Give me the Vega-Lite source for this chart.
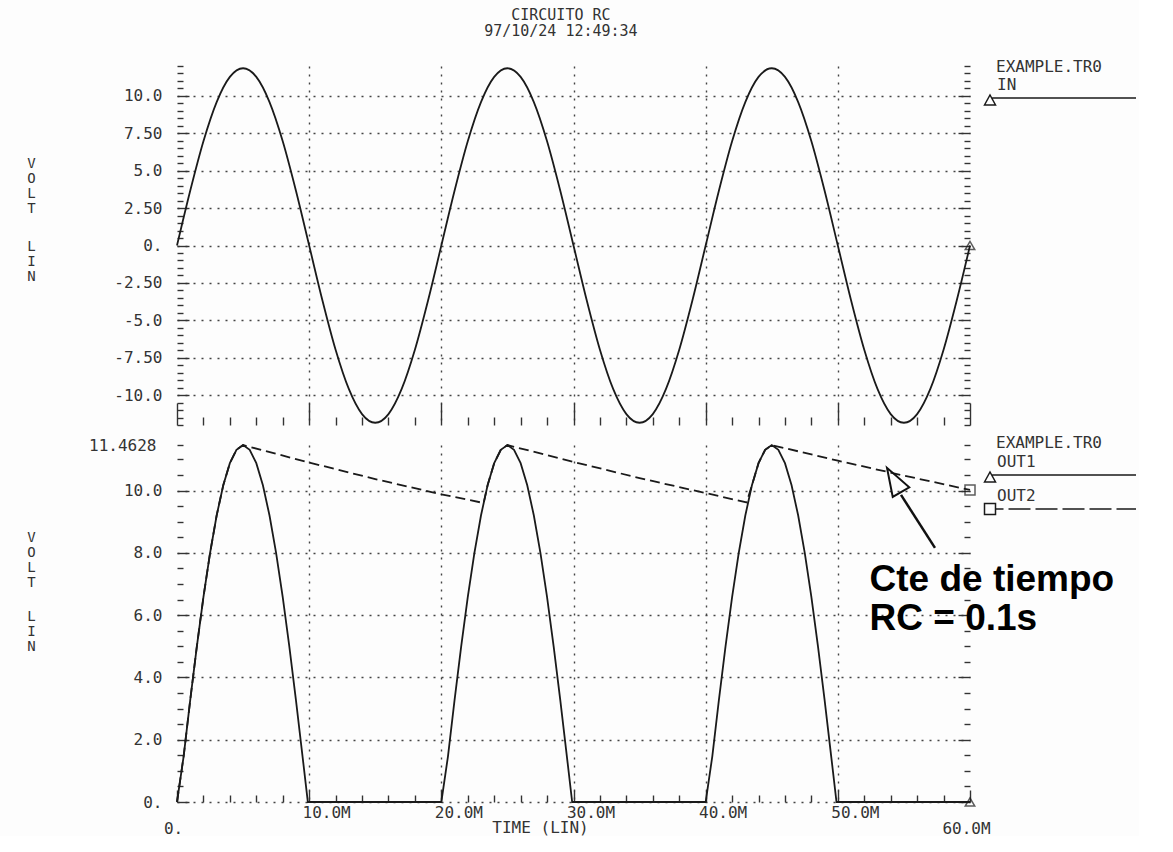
{
  "$schema": "https://vega.github.io/schema/vega-lite/v6.json",
  "background": "#fdfdfd",
  "padding": {"left": 26, "top": 8, "right": 0, "bottom": 0},
  "bounds": "flush",
  "title": {"text": ["CIRCUITO RC", "97/10/24 12:49:34"], "font": "DejaVu Sans Mono", "fontSize": 15, "fontWeight": "normal", "color": "#333", "lineHeight": 16, "anchor": "middle", "offset": 19, "dx": -22},
  "config": {
    "view": {"stroke": null},
    "font": "DejaVu Sans Mono",
    "axis": {"domain": false, "labelFont": "DejaVu Sans Mono", "labelFontSize": 16, "labelColor": "#333", "tickColor": "#333", "tickWidth": 1.4, "gridColor": "#444", "gridDash": [2, 6], "gridWidth": 1.4, "titleFont": "DejaVu Sans Mono", "titleFontWeight": "normal", "titleColor": "#333", "titleFontSize": 14, "labelOverlap": false, "labelBound": false, "labelFlush": false},
    "legend": {"labelFont": "DejaVu Sans Mono", "labelFontSize": 16, "labelColor": "#333", "titleFont": "DejaVu Sans Mono", "titleFontSize": 16, "titleFontWeight": "normal", "titleColor": "#333", "padding": 0, "symbolSize": 100, "symbolStrokeWidth": 1.5, "symbolOpacity": 1, "symbolFillColor": "transparent", "symbolStrokeColor": "#1a1a1a", "labelOffset": -15, "labelBaseline": "bottom"}
  },
  "datasets": {
    "in": [
      {"t": 0, "v": 0, "series": "IN"}, {"t": 1, "v": 3.66, "series": "IN"}, {"t": 2, "v": 6.97, "series": "IN"}, {"t": 3, "v": 9.59, "series": "IN"}, {"t": 4, "v": 11.27, "series": "IN"}, {"t": 5, "v": 11.85, "series": "IN"}, {"t": 6, "v": 11.27, "series": "IN"}, {"t": 7, "v": 9.59, "series": "IN"}, {"t": 8, "v": 6.97, "series": "IN"}, {"t": 9, "v": 3.66, "series": "IN"},
      {"t": 10, "v": 0, "series": "IN"}, {"t": 11, "v": -3.66, "series": "IN"}, {"t": 12, "v": -6.97, "series": "IN"}, {"t": 13, "v": -9.59, "series": "IN"}, {"t": 14, "v": -11.27, "series": "IN"}, {"t": 15, "v": -11.85, "series": "IN"}, {"t": 16, "v": -11.27, "series": "IN"}, {"t": 17, "v": -9.59, "series": "IN"}, {"t": 18, "v": -6.97, "series": "IN"}, {"t": 19, "v": -3.66, "series": "IN"},
      {"t": 20, "v": 0, "series": "IN"}, {"t": 21, "v": 3.66, "series": "IN"}, {"t": 22, "v": 6.97, "series": "IN"}, {"t": 23, "v": 9.59, "series": "IN"}, {"t": 24, "v": 11.27, "series": "IN"}, {"t": 25, "v": 11.85, "series": "IN"}, {"t": 26, "v": 11.27, "series": "IN"}, {"t": 27, "v": 9.59, "series": "IN"}, {"t": 28, "v": 6.97, "series": "IN"}, {"t": 29, "v": 3.66, "series": "IN"},
      {"t": 30, "v": 0, "series": "IN"}, {"t": 31, "v": -3.66, "series": "IN"}, {"t": 32, "v": -6.97, "series": "IN"}, {"t": 33, "v": -9.59, "series": "IN"}, {"t": 34, "v": -11.27, "series": "IN"}, {"t": 35, "v": -11.85, "series": "IN"}, {"t": 36, "v": -11.27, "series": "IN"}, {"t": 37, "v": -9.59, "series": "IN"}, {"t": 38, "v": -6.97, "series": "IN"}, {"t": 39, "v": -3.66, "series": "IN"},
      {"t": 40, "v": 0, "series": "IN"}, {"t": 41, "v": 3.66, "series": "IN"}, {"t": 42, "v": 6.97, "series": "IN"}, {"t": 43, "v": 9.59, "series": "IN"}, {"t": 44, "v": 11.27, "series": "IN"}, {"t": 45, "v": 11.85, "series": "IN"}, {"t": 46, "v": 11.27, "series": "IN"}, {"t": 47, "v": 9.59, "series": "IN"}, {"t": 48, "v": 6.97, "series": "IN"}, {"t": 49, "v": 3.66, "series": "IN"},
      {"t": 50, "v": 0, "series": "IN"}, {"t": 51, "v": -3.66, "series": "IN"}, {"t": 52, "v": -6.97, "series": "IN"}, {"t": 53, "v": -9.59, "series": "IN"}, {"t": 54, "v": -11.27, "series": "IN"}, {"t": 55, "v": -11.85, "series": "IN"}, {"t": 56, "v": -11.27, "series": "IN"}, {"t": 57, "v": -9.59, "series": "IN"}, {"t": 58, "v": -6.97, "series": "IN"}, {"t": 59, "v": -3.66, "series": "IN"},
      {"t": 60, "v": 0, "series": "IN"}
    ],
    "out": [
      {"t": 0, "v": 0, "series": "OUT1"}, {"t": 0.5, "v": 1.46, "series": "OUT1"}, {"t": 1, "v": 3.27, "series": "OUT1"}, {"t": 1.5, "v": 4.99, "series": "OUT1"}, {"t": 2, "v": 6.58, "series": "OUT1"}, {"t": 2.5, "v": 7.99, "series": "OUT1"}, {"t": 3, "v": 9.2, "series": "OUT1"}, {"t": 3.5, "v": 10.17, "series": "OUT1"}, {"t": 4, "v": 10.88, "series": "OUT1"}, {"t": 4.5, "v": 11.31, "series": "OUT1"}, {"t": 5, "v": 11.46, "series": "OUT1"}, {"t": 5.5, "v": 11.31, "series": "OUT1"}, {"t": 6, "v": 10.88, "series": "OUT1"}, {"t": 6.5, "v": 10.17, "series": "OUT1"}, {"t": 7, "v": 9.2, "series": "OUT1"}, {"t": 7.5, "v": 7.99, "series": "OUT1"}, {"t": 8, "v": 6.58, "series": "OUT1"}, {"t": 8.5, "v": 4.99, "series": "OUT1"}, {"t": 9, "v": 3.27, "series": "OUT1"}, {"t": 9.5, "v": 1.46, "series": "OUT1"}, {"t": 9.9, "v": 0, "series": "OUT1"},
      {"t": 20, "v": 0, "series": "OUT1"}, {"t": 20.5, "v": 1.46, "series": "OUT1"}, {"t": 21, "v": 3.27, "series": "OUT1"}, {"t": 21.5, "v": 4.99, "series": "OUT1"}, {"t": 22, "v": 6.58, "series": "OUT1"}, {"t": 22.5, "v": 7.99, "series": "OUT1"}, {"t": 23, "v": 9.2, "series": "OUT1"}, {"t": 23.5, "v": 10.17, "series": "OUT1"}, {"t": 24, "v": 10.88, "series": "OUT1"}, {"t": 24.5, "v": 11.31, "series": "OUT1"}, {"t": 25, "v": 11.46, "series": "OUT1"}, {"t": 25.5, "v": 11.31, "series": "OUT1"}, {"t": 26, "v": 10.88, "series": "OUT1"}, {"t": 26.5, "v": 10.17, "series": "OUT1"}, {"t": 27, "v": 9.2, "series": "OUT1"}, {"t": 27.5, "v": 7.99, "series": "OUT1"}, {"t": 28, "v": 6.58, "series": "OUT1"}, {"t": 28.5, "v": 4.99, "series": "OUT1"}, {"t": 29, "v": 3.27, "series": "OUT1"}, {"t": 29.5, "v": 1.46, "series": "OUT1"}, {"t": 29.9, "v": 0, "series": "OUT1"},
      {"t": 40, "v": 0, "series": "OUT1"}, {"t": 40.5, "v": 1.46, "series": "OUT1"}, {"t": 41, "v": 3.27, "series": "OUT1"}, {"t": 41.5, "v": 4.99, "series": "OUT1"}, {"t": 42, "v": 6.58, "series": "OUT1"}, {"t": 42.5, "v": 7.99, "series": "OUT1"}, {"t": 43, "v": 9.2, "series": "OUT1"}, {"t": 43.5, "v": 10.17, "series": "OUT1"}, {"t": 44, "v": 10.88, "series": "OUT1"}, {"t": 44.5, "v": 11.31, "series": "OUT1"}, {"t": 45, "v": 11.46, "series": "OUT1"}, {"t": 45.5, "v": 11.31, "series": "OUT1"}, {"t": 46, "v": 10.88, "series": "OUT1"}, {"t": 46.5, "v": 10.17, "series": "OUT1"}, {"t": 47, "v": 9.2, "series": "OUT1"}, {"t": 47.5, "v": 7.99, "series": "OUT1"}, {"t": 48, "v": 6.58, "series": "OUT1"}, {"t": 48.5, "v": 4.99, "series": "OUT1"}, {"t": 49, "v": 3.27, "series": "OUT1"}, {"t": 49.5, "v": 1.46, "series": "OUT1"}, {"t": 49.9, "v": 0, "series": "OUT1"},
      {"t": 60, "v": 0, "series": "OUT1"},
      {"t": 0, "v": 0, "series": "OUT2"}, {"t": 0.5, "v": 1.46, "series": "OUT2"}, {"t": 1, "v": 3.27, "series": "OUT2"}, {"t": 1.5, "v": 4.99, "series": "OUT2"}, {"t": 2, "v": 6.58, "series": "OUT2"}, {"t": 2.5, "v": 7.99, "series": "OUT2"}, {"t": 3, "v": 9.2, "series": "OUT2"}, {"t": 3.5, "v": 10.17, "series": "OUT2"}, {"t": 4, "v": 10.88, "series": "OUT2"}, {"t": 4.5, "v": 11.31, "series": "OUT2"}, {"t": 5, "v": 11.46, "series": "OUT2"},
      {"t": 10, "v": 10.9, "series": "OUT2"}, {"t": 15, "v": 10.37, "series": "OUT2"}, {"t": 20, "v": 9.88, "series": "OUT2"}, {"t": 23.2, "v": 9.6, "series": "OUT2"}, {"t": 23.5, "v": 10.17, "series": "OUT2"}, {"t": 24, "v": 10.88, "series": "OUT2"}, {"t": 24.5, "v": 11.31, "series": "OUT2"}, {"t": 25, "v": 11.46, "series": "OUT2"},
      {"t": 30, "v": 10.92, "series": "OUT2"}, {"t": 35, "v": 10.4, "series": "OUT2"}, {"t": 40, "v": 9.92, "series": "OUT2"}, {"t": 43.1, "v": 9.62, "series": "OUT2"}, {"t": 43.5, "v": 10.17, "series": "OUT2"}, {"t": 44, "v": 10.88, "series": "OUT2"}, {"t": 44.5, "v": 11.31, "series": "OUT2"}, {"t": 45, "v": 11.46, "series": "OUT2"},
      {"t": 50, "v": 10.96, "series": "OUT2"}, {"t": 55, "v": 10.48, "series": "OUT2"}, {"t": 60, "v": 10.02, "series": "OUT2"}
    ]
  },
  "resolve": {"scale": {"shape": "independent"}},
  "spacing": 20,
  "vconcat": [
    {
      "width": 793,
      "height": 359,
      "resolve": {"axis": {"y": "independent"}},
      "layer": [
        {
          "data": {"name": "in"},
          "mark": {"type": "line", "interpolate": "monotone", "color": "#1a1a1a", "strokeWidth": 1.8},
          "encoding": {
            "x": {"field": "t", "type": "quantitative", "scale": {"domain": [0, 60], "nice": false},
              "axis": {"values": [0,2,4,6,8,10,12,14,16,18,20,22,24,26,28,30,32,34,36,38,40,42,44,46,48,50,52,54,56,58,60], "tickCount": 200, "labels": false, "title": null,
                "tickSize": {"condition": {"test": "datum.value % 10 == 0", "value": -22}, "value": -8},
                "gridOpacity": {"condition": {"test": "datum.value % 10 == 0 && datum.value > 0 && datum.value < 60", "value": 1}, "value": 0}}},
            "y": {"field": "v", "type": "quantitative", "scale": {"domain": [-12, 12], "nice": false, "zero": false},
              "axis": {"orient": "left", "values": [-12,-11.5,-11,-10.5,-10,-9.5,-9,-8.5,-8,-7.5,-7,-6.5,-6,-5.5,-5,-4.5,-4,-3.5,-3,-2.5,-2,-1.5,-1,-0.5,0,0.5,1,1.5,2,2.5,3,3.5,4,4.5,5,5.5,6,6.5,7,7.5,8,8.5,9,9.5,10,10.5,11,11.5,12], "tickCount": 200,
                "labelExpr": "abs(datum.value) <= 10 && datum.value % 2.5 == 0 ? (datum.value == 0 ? '0.' : (datum.value < 0 ? '-' : '') + (datum.value % 5 == 0 ? format(abs(datum.value), '.1f') : format(abs(datum.value), '.2f'))) : ''",
                "tickSize": {"condition": {"test": "datum.value % 2.5 == 0", "value": -12}, "value": -6},
                "gridOpacity": {"condition": {"test": "datum.value % 2.5 == 0 && abs(datum.value) <= 10", "value": 1}, "value": 0},
                "labelPadding": 27,
                "title": ["V", "O", "L", "T"], "titleAngle": 0, "titleX": -146, "titleY": 90, "titleAlign": "center", "titleBaseline": "top", "titleLineHeight": 15}}
          }
        },
        {
          "data": {"name": "in"},
          "transform": [{"filter": "datum.t == 60"}],
          "mark": {"type": "point", "shape": "triangle-up", "filled": false, "color": "#1a1a1a", "size": 90, "strokeWidth": 1.5},
          "encoding": {
            "x": {"field": "t", "type": "quantitative"},
            "y": {"field": "v", "type": "quantitative",
              "axis": {"orient": "right", "values": [-12,-11.5,-11,-10.5,-10,-9.5,-9,-8.5,-8,-7.5,-7,-6.5,-6,-5.5,-5,-4.5,-4,-3.5,-3,-2.5,-2,-1.5,-1,-0.5,0,0.5,1,1.5,2,2.5,3,3.5,4,4.5,5,5.5,6,6.5,7,7.5,8,8.5,9,9.5,10,10.5,11,11.5,12], "tickCount": 200,
                "labels": false, "grid": false,
                "tickSize": {"condition": {"test": "datum.value % 2.5 == 0", "value": -12}, "value": -6},
                "title": ["L", "I", "N"], "titleAngle": 0, "titleX": -939, "titleY": 173, "titleAlign": "center", "titleBaseline": "top", "titleLineHeight": 15}}
          }
        },
        {
          "data": {"name": "in"},
          "transform": [{"filter": "datum.t < 0"}],
          "mark": {"type": "point", "filled": false, "color": "#1a1a1a", "size": 100, "strokeWidth": 1.5},
          "encoding": {
            "x": {"field": "t", "type": "quantitative"},
            "y": {"field": "v", "type": "quantitative", "axis": null},
            "shape": {"field": "series", "type": "nominal",
              "scale": {"domain": ["IN"], "range": ["M-3.9,2.4 L-2.8,0.4 L-1.7,2.4 Z M-2.5,1 L26.4,1"]},
              "legend": {"orient": "none", "legendX": 819, "legendY": -7, "title": "EXAMPLE.TR0", "titlePadding": 10}}
          }
        }
      ]
    },
    {
      "width": 793,
      "height": 357,
      "resolve": {"axis": {"y": "independent"}},
      "layer": [
        {
          "data": {"name": "out"},
          "transform": [{"filter": "datum.series == 'OUT1'"}],
          "mark": {"type": "line", "color": "#1a1a1a", "strokeWidth": 1.8},
          "encoding": {
            "x": {"field": "t", "type": "quantitative", "scale": {"domain": [0, 60], "nice": false},
              "axis": {"values": [0,2,4,6,8,10,12,14,16,18,20,22,24,26,28,30,32,34,36,38,40,42,44,46,48,50,52,54,56,58,60], "tickCount": 200,
                "labelExpr": "datum.value % 10 == 0 ? (datum.value == 0 ? '0.' : format(datum.value, '.1f') + 'M') : ''",
                "labelOffset": {"condition": {"test": "datum.value == 0 || datum.value == 60", "value": -4}, "value": 17},
                "labelPadding": {"condition": {"test": "datum.value == 0 || datum.value == 60", "value": 30}, "value": 14},
                "labelBaseline": "top",
                "tickSize": {"condition": {"test": "datum.value % 10 == 0", "value": -12}, "value": -7},
                "gridOpacity": {"condition": {"test": "datum.value % 10 == 0 && datum.value > 0 && datum.value < 60", "value": 1}, "value": 0},
                "title": "TIME (LIN)", "titleX": 363, "titleY": 25, "titleAlign": "center", "titleBaseline": "middle", "titleFontSize": 16}},
            "y": {"field": "v", "type": "quantitative", "scale": {"domain": [0, 11.4628], "nice": false},
              "axis": {"orient": "left", "values": [0,0.5,1,1.5,2,2.5,3,3.5,4,4.5,5,5.5,6,6.5,7,7.5,8,8.5,9,9.5,10,10.5,11,11.4628], "tickCount": 200,
                "labelExpr": "datum.value == 0 ? '0.' : (datum.value % 2 == 0 ? format(datum.value, '.1f') : (datum.value > 11.4 ? '11.4628' : ''))",
                "tickSize": {"condition": {"test": "datum.value % 2 == 0", "value": -12}, "value": -6},
                "gridOpacity": {"condition": {"test": "datum.value % 2 == 0", "value": 1}, "value": 0},
                "labelPadding": 27,
                "title": ["V", "O", "L", "T"], "titleAngle": 0, "titleX": -146, "titleY": 85, "titleAlign": "center", "titleBaseline": "top", "titleLineHeight": 15}}
          }
        },
        {
          "data": {"name": "out"},
          "transform": [{"filter": "datum.series == 'OUT2'"}],
          "mark": {"type": "line", "color": "#1a1a1a", "strokeWidth": 1.8, "strokeDash": [10, 5]},
          "encoding": {
            "x": {"field": "t", "type": "quantitative"},
            "y": {"field": "v", "type": "quantitative", "axis": null}
          }
        },
        {
          "data": {"name": "out"},
          "transform": [{"filter": "datum.t == 60 && datum.series == 'OUT1'"}],
          "mark": {"type": "point", "shape": "triangle-up", "filled": false, "color": "#1a1a1a", "size": 90, "strokeWidth": 1.5},
          "encoding": {
            "x": {"field": "t", "type": "quantitative"},
            "y": {"field": "v", "type": "quantitative",
              "axis": {"orient": "right", "values": [0,0.5,1,1.5,2,2.5,3,3.5,4,4.5,5,5.5,6,6.5,7,7.5,8,8.5,9,9.5,10,10.5,11,11.4628], "tickCount": 200,
                "labels": false, "grid": false,
                "tickSize": {"condition": {"test": "datum.value % 2 == 0", "value": -12}, "value": -6},
                "title": ["L", "I", "N"], "titleAngle": 0, "titleX": -939, "titleY": 164, "titleAlign": "center", "titleBaseline": "top", "titleLineHeight": 15}}
          }
        },
        {
          "data": {"name": "out"},
          "transform": [{"filter": "datum.t == 60 && datum.series == 'OUT2'"}],
          "mark": {"type": "point", "shape": "square", "filled": false, "color": "#1a1a1a", "size": 100, "strokeWidth": 1.5},
          "encoding": {
            "x": {"field": "t", "type": "quantitative"},
            "y": {"field": "v", "type": "quantitative", "axis": null}
          }
        },
        {
          "data": {"name": "out"},
          "transform": [{"filter": "datum.t < 0"}],
          "mark": {"type": "point", "filled": false, "color": "#1a1a1a", "size": 100, "strokeWidth": 1.5},
          "encoding": {
            "x": {"field": "t", "type": "quantitative"},
            "y": {"field": "v", "type": "quantitative", "axis": null},
            "shape": {"field": "series", "type": "nominal",
              "scale": {"domain": ["OUT1", "OUT2"], "range": ["M-3.9,2.4 L-2.8,0.4 L-1.7,2.4 Z M-2.5,1 L26.4,1", "M-3.9,-0.1 L-1.7,-0.1 L-1.7,2.1 L-3.9,2.1 Z M-1.7,1 L-0.1,1 M0.9,1 L5.3,1 M6.3,1 L10.7,1 M11.7,1 L16.1,1 M17.1,1 L21.5,1 M22.5,1 L26.4,1"]},
              "legend": {"orient": "none", "legendX": 819, "legendY": -10, "title": "EXAMPLE.TR0", "titlePadding": 11, "rowPadding": 3}}
          }
        },
        {
          "data": {"values": [{"t_tail": 57.35, "v_tail": 8.16, "t_base": 54.78, "v_base": 9.86}]},
          "mark": {"type": "rule", "color": "#111", "strokeWidth": 2.5},
          "encoding": {
            "x": {"field": "t_tail", "type": "quantitative"},
            "y": {"field": "v_tail", "type": "quantitative", "axis": null},
            "x2": {"field": "t_base"},
            "y2": {"field": "v_base"}
          }
        },
        {
          "data": {"values": [{"t_tip": 53.72, "v_tip": 10.73}]},
          "mark": {"type": "point", "shape": "M0,0 L-0.68,2 L0.68,2 Z", "size": 784, "angle": -30, "filled": false, "stroke": "#111", "strokeWidth": 2, "opacity": 1},
          "encoding": {
            "x": {"field": "t_tip", "type": "quantitative"},
            "y": {"field": "v_tip", "type": "quantitative", "axis": null}
          }
        },
        {
          "data": {"values": [{"t": 52.4, "v": 7.7, "note": "Cte de tiempo\nRC = 0.1s"}]},
          "mark": {"type": "text", "font": "Liberation Sans", "fontWeight": "bold", "fontSize": 37, "align": "left", "baseline": "top", "lineBreak": "\n", "lineHeight": 39, "color": "#000"},
          "encoding": {
            "x": {"field": "t", "type": "quantitative"},
            "y": {"field": "v", "type": "quantitative", "axis": null},
            "text": {"field": "note"}
          }
        }
      ]
    }
  ]
}
